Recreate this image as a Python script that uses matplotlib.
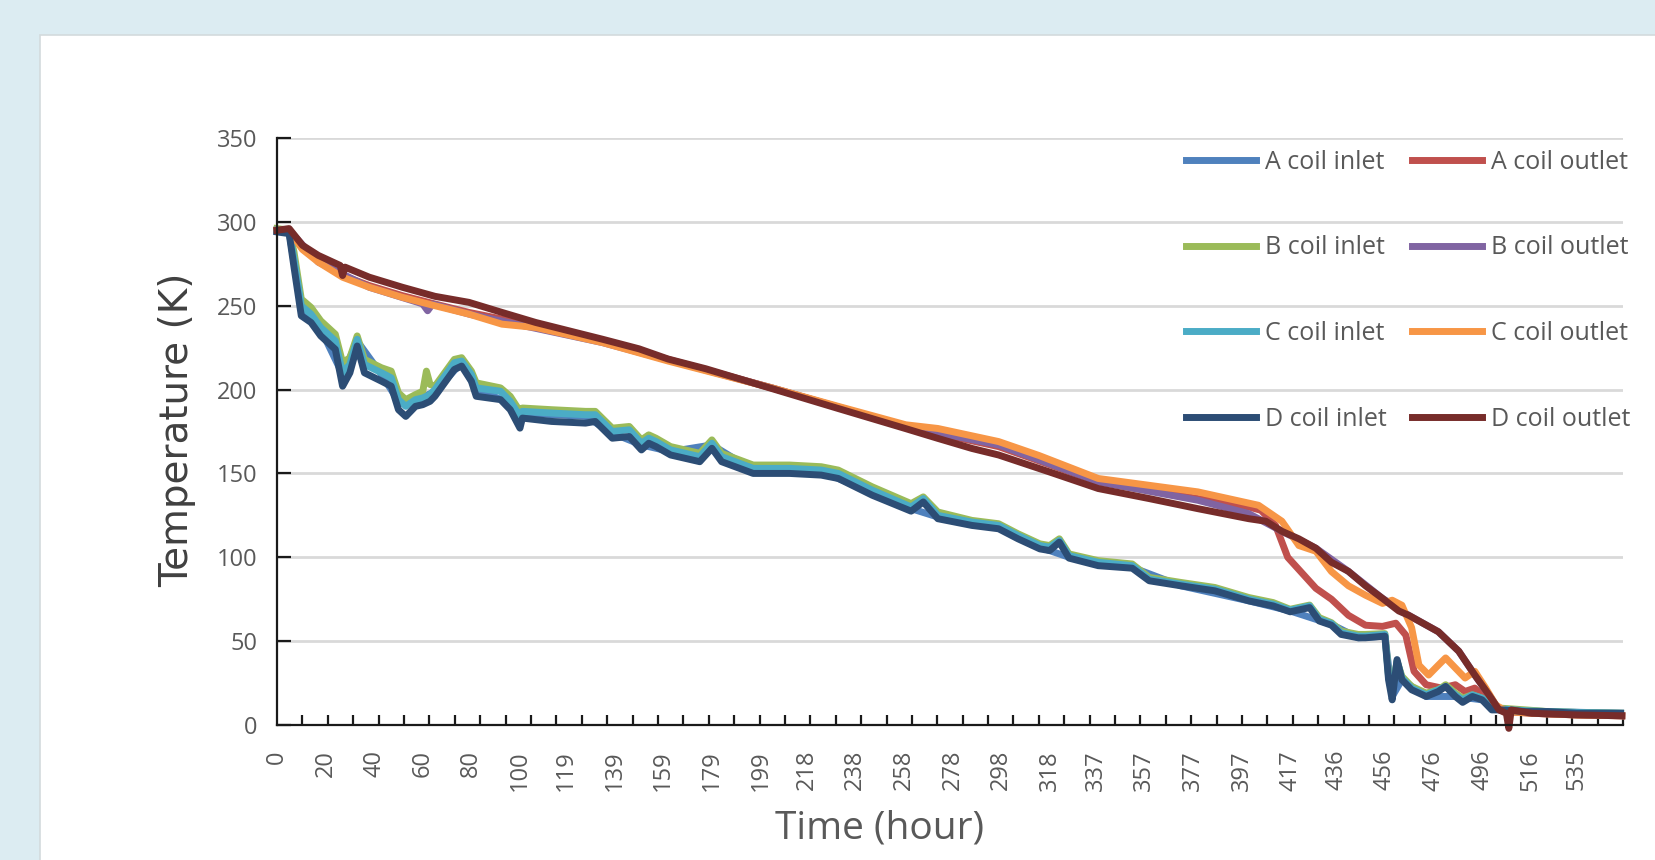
import numpy as np
import matplotlib
matplotlib.use('Agg')
import matplotlib.pyplot as plt
from matplotlib.patches import Rectangle
from matplotlib.ticker import MultipleLocator

# time (hour) and temperature (K)
t_inlet = [0, 5, 7, 10, 14, 18, 24, 27, 30, 33, 36, 43, 47, 50, 53, 57, 60, 61.5, 63, 65, 73, 76, 80, 82, 92, 96,
           100, 101, 113, 127, 131, 138, 145, 150, 153, 156, 162, 174, 179, 183, 196, 211, 224, 231, 245, 261, 266,
           272, 286, 297, 305, 314, 318, 322, 326, 338, 352, 359, 372, 386, 400, 410, 417, 425, 429, 434, 438, 445,
           448, 456, 457.5, 459, 461, 463, 467, 473, 478, 481, 485, 488, 492, 496, 500, 504, 514, 523, 535, 553]
b_inlet = [296, 295, 282, 254, 249, 241, 233, 216, 219, 232, 218, 213, 211, 198, 194, 197, 199, 211, 203, 202, 218,
           219, 211, 204, 201, 196, 187, 189, 188, 187, 187, 177, 178, 170, 173, 171, 166, 162, 170, 162, 155, 155,
           154, 152, 142, 132, 136, 127, 122, 120, 114, 108, 107, 111, 102, 98, 96, 88, 85, 82, 76, 73, 69, 71.5,
           64, 61, 56, 54, 54, 54.5, 30, 20, 38, 29, 23, 19, 21, 24, 19, 16, 18, 16, 11, 10, 9, 8, 7.5, 7]
c_inlet = [295, 294, 278, 250, 245, 237, 229, 210, 215, 230, 215, 210, 207, 194, 190, 194, 195, 196, 197, 200, 216,
           217, 209, 201, 199, 193, 184, 187, 186, 185, 185, 175, 176, 168, 171, 169, 164, 160, 168, 160, 153, 153,
           152, 150, 140, 130, 135, 125, 121, 119, 113, 107, 106, 110, 101, 97, 95, 87, 84, 81, 75, 72, 68.5, 71,
           63, 60.5, 55, 53, 53, 54, 29, 18, 38, 28, 22, 18, 21, 23, 18, 15, 18, 16, 10, 9.5, 8.5, 8, 7.5, 7]
d_inlet = [294, 293, 273, 244, 240, 232, 224, 202, 210, 226, 210, 205, 202, 188, 184, 190, 191, 192, 193, 196, 212,
           214, 205, 196, 194, 188, 177, 183, 181, 180, 181, 171, 172, 164, 168, 166, 161, 157, 165, 157, 150, 150,
           149, 147, 137, 127.5, 133, 123, 119, 117, 111, 105, 104, 109, 99.5, 95, 93.5, 86, 83, 80, 74, 71, 67.5,
           70, 62, 59.5, 54, 52, 52, 53, 27, 15, 39, 27, 21, 17, 20, 23, 17, 13.5, 17, 15, 9, 9, 8, 8, 7, 7]

t_a_inlet = [0, 5, 10, 18, 27, 33, 43, 50, 57, 65, 76, 82, 96, 101, 127, 138, 150, 162, 179, 196, 224, 245, 261,
             272, 297, 314, 326, 352, 372, 400, 417, 434, 445, 456, 459, 463, 473, 485, 496, 504, 523, 553]
a_inlet = [295, 294, 249, 236, 209, 229, 209, 193, 193, 199, 216, 200, 192, 186, 184, 174, 167, 163, 167, 152, 151,
           139, 129, 124, 118, 106, 100, 94, 83, 74, 68, 60, 52, 53, 17, 27, 17, 17, 15, 9, 8, 7]

t_a_outlet = [0, 5, 10.5, 17, 27, 38, 51.6, 65, 79, 106.5, 134, 161, 203.7, 231, 258.8, 297, 338, 379, 400, 405,
              411, 416, 427.6, 434, 441, 448, 455, 460.5, 464.6, 468, 473, 479.4, 485, 489, 493, 497.5, 501.6, 506,
              516.5, 535, 553.5]
a_outlet = [295, 295, 284, 277, 268, 262, 256, 251, 246, 238, 229, 218, 201, 189.5, 178, 166, 145, 135, 130, 128,
            119, 100, 81.5, 75, 65.4, 59.5, 58.8, 60.7, 53.6, 32, 24, 22, 24, 20, 22, 16, 10, 8, 7, 6, 5.5]

t_b_outlet = [0, 5, 17, 38, 58, 60, 62, 64, 79, 134, 203.7, 258.8, 297, 338, 379, 400, 413.6, 427.6, 441, 455,
              465.8, 478, 486.4, 493, 498.8, 503, 516.5, 553.5]
b_outlet = [295, 295, 276, 261, 252, 251, 247, 251, 245, 228, 201, 178, 167, 145, 134, 126, 115.5, 105.4, 91.6,
            75.5, 65.4, 55.6, 44, 29.8, 18, 9, 7, 5.5]

t_c_outlet = [0, 5, 10.5, 17, 27, 38, 51.6, 65, 79, 92.6, 106.5, 134, 161, 203.7, 231, 258.8, 272, 297, 313.6, 338,
              379, 404, 413.6, 420.6, 427.6, 434, 441, 448, 455, 459, 463, 467, 470, 474, 478, 481, 485, 489, 493,
              497.5, 501.6, 506, 516.5, 535, 553.5]
c_outlet = [295, 295, 283.5, 276, 267, 261, 255, 250, 245, 239, 237, 228, 217, 201, 190, 179, 176.8, 169, 160.7, 147,
            139, 131, 121.5, 107, 103.6, 91.5, 83, 77.4, 72.5, 74.4, 71.4, 58, 35.7, 29.8, 35.7, 40, 34, 28, 32, 22,
            12, 8, 7, 6, 5.5]

t_d_outlet = [0, 5, 10.5, 17, 26, 27, 28, 38, 51.6, 65, 79, 92.6, 106.5, 134, 149, 161, 176.5, 203.7, 231, 258.8,
              272, 286, 297, 317.7, 338, 359, 379, 400, 407, 413.6, 420.6, 427.6, 434, 441, 448, 455, 461.7, 465.8,
              478, 486.4, 493, 498.8, 503, 506, 507, 508, 516.5, 535, 553.5]
d_outlet = [295, 296, 286, 280, 274, 268, 273, 267, 261, 255.6, 252, 246, 240, 230, 224.3, 218.2, 212.4, 200.6,
            188.7, 176.7, 170.9, 164.9, 161, 151, 141, 135, 129, 123, 121.5, 115.5, 111, 105.4, 97, 91.6, 83, 75.5,
            68, 65.4, 55.6, 44, 29.8, 18, 9, 7, -2, 9, 7, 6, 5.5]

x_labels = [0, 20, 40, 60, 80, 100, 119, 139, 159, 179, 199, 218, 238, 258, 278, 298, 318, 337, 357, 377, 397,
            417, 436, 456, 476, 496, 516, 535]

series = [
    ('A coil inlet', t_a_inlet, a_inlet, '#4F81BD'),
    ('A coil outlet', t_a_outlet, a_outlet, '#C0504D'),
    ('B coil inlet', t_inlet, b_inlet, '#9BBB59'),
    ('B coil outlet', t_b_outlet, b_outlet, '#8064A2'),
    ('C coil inlet', t_inlet, c_inlet, '#4BACC6'),
    ('C coil outlet', t_c_outlet, c_outlet, '#F79646'),
    ('D coil inlet', t_inlet, d_inlet, '#2C4D75'),
    ('D coil outlet', t_d_outlet, d_outlet, '#772C2A'),
]

W, H = 1656, 860
fig = plt.figure(figsize=(W / 100, H / 100), dpi=100)
fig.patch.set_facecolor('#DCECF2')
fig.add_artist(Rectangle((40 / W, -0.01), 1.0, (H - 35) / H + 0.01, transform=fig.transFigure,
                         facecolor='white', edgecolor='#D3DADD', lw=1.2, zorder=0))

ax = fig.add_axes([277 / W, (H - 725) / H, (1623 - 277) / W, (725 - 138) / H])
ax.set_facecolor('none')

handles = {}
for name, t, v, col in series:
    handles[name], = ax.plot(t, v, color=col, lw=5, label=name, clip_on=False, solid_joinstyle='round')

ax.set_xlim(0, 554)
ax.set_ylim(0, 350)
ax.set_yticks(np.arange(0, 351, 50))
ax.set_xticks(x_labels)
ax.set_xticklabels([str(v) for v in x_labels], rotation=90)
ax.xaxis.set_minor_locator(MultipleLocator(554 / 53))

ax.grid(axis='y', color='#D9D9D9', lw=2)
ax.set_axisbelow(True)
for s in ['top', 'right']:
    ax.spines[s].set_visible(False)
for s in ['left', 'bottom']:
    ax.spines[s].set_linewidth(1.6)
    ax.spines[s].set_color('#1a1a1a')

ax.tick_params(axis='y', direction='in', length=10, width=1.6, color='#1a1a1a', pad=14,
               labelsize=17, labelcolor='#595959')
ax.tick_params(axis='x', which='major', length=0, pad=18, labelsize=17, labelcolor='#595959')
ax.tick_params(axis='x', which='minor', direction='in', length=7, width=1.6, color='#1a1a1a')
for lab in ax.get_xticklabels() + ax.get_yticklabels():
    lab.set_family('Open Sans')

ax.set_xlabel('Time (hour)', fontsize=28, color='#595959', family='Open Sans')
ax.xaxis.set_label_coords((880 - 277) / 1346, (725 - 828) / 587)
ax.xaxis.label.set_va('center')
ax.set_ylabel('Temperature (K)', fontsize=28, color='#404040', family='DejaVu Sans')
ax.yaxis.set_label_coords((177 - 277) / 1346, (725 - 430) / 587)
ax.yaxis.label.set_va('center')

# legend: rows A-D, inlet column then outlet column
order = ['A coil inlet', 'B coil inlet', 'C coil inlet', 'D coil inlet',
         'A coil outlet', 'B coil outlet', 'C coil outlet', 'D coil outlet']
leg = ax.legend([handles[k] for k in order], order, ncol=2, loc='upper right',
                bbox_to_anchor=(1630 / W, (H - 150) / H), bbox_transform=fig.transFigure,
                frameon=False, borderaxespad=0, borderpad=0,
                handlelength=2.8, handletextpad=0.35, columnspacing=1.0, labelspacing=2.42,
                prop={'family': 'Open Sans', 'size': 18})
for txt in leg.get_texts():
    txt.set_color('#595959')
for ln in leg.get_lines():
    ln.set_linewidth(5)

fig.savefig('out.png', dpi=100)
